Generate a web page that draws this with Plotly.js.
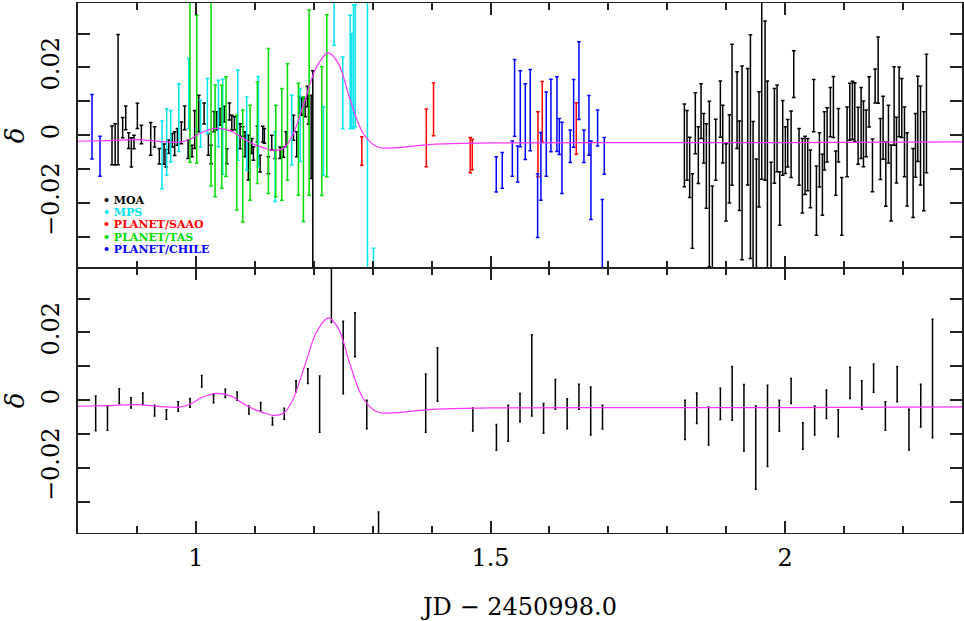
<!DOCTYPE html>
<html>
<head>
<meta charset="utf-8">
<script src="https://cdn.plot.ly/plotly-3.0.1.min.js"></script>
<style>
  body { margin: 0; background: #fff; }
  #plot { width: 964px; height: 621px; }
</style>
</head>
<body>
<div id="plot"></div>
<script>
// top panel: individual observatories (x = JD - 2450998.0, residual delta, error)
const moaX = [0.8577, 0.863, 0.868, 0.8758, 0.881, 0.886, 0.8905, 0.895, 0.9007, 0.9075, 0.9234, 0.930, 0.938, 0.946, 0.9494, 0.954, 0.960, 0.964, 0.9687, 0.9754, 0.981, 0.9868, 0.9935, 0.998, 1.005, 1.014, 1.0212, 1.0258, 1.031, 1.0354, 1.041, 1.048, 1.0524, 1.057, 1.061, 1.0654, 1.075, 1.0795, 1.0835, 1.089, 1.095, 1.0977, 1.1044, 1.109, 1.1135, 1.1163, 1.1231, 1.1288, 1.1344, 1.1429, 1.1486, 1.1531, 1.1656, 1.1712, 1.1758, 1.1797, 1.1854, 1.1893, 1.1911, 1.1956, 1.1984,
  1.8289, 1.8334, 1.8379, 1.8425, 1.8475, 1.8526, 1.8572, 1.8617, 1.8662, 1.8713, 1.8764, 1.8821, 1.8900, 1.894, 1.8996, 1.9053, 1.9098, 1.9183, 1.9223, 1.9268, 1.9364, 1.941, 1.9455, 1.9511, 1.9556, 1.9602, 1.9658, 1.9698, 1.976, 1.9817, 1.9862, 1.9907, 1.9958, 2.0003, 2.0043, 2.01, 2.0145, 2.0235, 2.0292, 2.0337, 2.0382, 2.0428, 2.0484, 2.0530, 2.0581, 2.0631, 2.0665, 2.0711, 2.0767, 2.0818, 2.0858, 2.0903, 2.096, 2.105, 2.1096, 2.1141, 2.1181, 2.1237, 2.1288, 2.1328, 2.1373, 2.1424, 2.1481, 2.1526, 2.1577, 2.1616, 2.1661, 2.1707, 2.1752, 2.1797, 2.1848, 2.1888, 2.1933, 2.1978, 2.2024, 2.2069, 2.217, 2.2211, 2.225, 2.2296, 2.2352, 2.2397];
const moaY = [-0.003, -0.0027, 0.0105, 0.0022, 0.0051, -0.0016, -0.0051, -0.002, 0.0057, 0.0002, -0.0011, -0.0005, -0.0062, -0.0056, -0.0068, -0.0034, -0.0015, -0.0025, -0.0005, 0.0007, 0.0051, -0.0042, -0.0047, 0.0017, 0.0064, 0.0064, -0.0027, -0.0057, 0.004, 0.0042, 0.0054, 0.0062, -0.0062, 0.007, 0.0037, 0.0035, -0.0003, 0.0011, -0.0027, -0.0066, -0.0032, -0.0054, 0.0003, -0.0084, 0.0003, -0.0002, -0.0089, -0.0022, -0.0057, -0.0052, -0.005, -0.0012, 0.0022, -0.0027, 0.0089, 0.0084, 0.0081, 0.0114, 0.0074, -0.0005, -0.0155,
  -0.003, -0.003, -0.0095, -0.0224, 0.0035, -0.0059, 0.0071, -0.0009, -0.0091, -0.0144, -0.03, -0.0043, 0.0077, 0.0003, -0.0139, -0.007, 0.006, 0.0074, -0.009, -0.0082, 0.0025, -0.0034, -0.02, -0.028, -0.0042, 0.015, 0.0102, -0.015, -0.03, -0.0002, 0.002, -0.0187, -0.0008, -0.0044, -0.0024, -0.0027, 0.018, -0.0064, -0.012, -0.0089, -0.0087, -0.0129, 0.0087, -0.0193, -0.0073, -0.0146, -0.0017, 0.0001, 0.0068, 0.0083, -0.0112, 0.0, -0.021, -0.002, 0.0069, 0.0073, 0.0068, -0.0002, 0.0036, 0.0004, 0.0005, 0.0098, -0.0089, 0.0145, 0.0192, -0.0041, 0.0022, -0.0115, 0.0003, -0.0141, 0.0086, -0.0044, 0.0098, 0.008, -0.002, -0.0101, -0.0141, -0.003, 0.0048, -0.0001, -0.0077, 0.0064];
const moaErr = [0.0057, 0.0061, 0.0192, 0.003, 0.0035, 0.0023, 0.0043, 0.002, 0.0037, 0.0027, 0.0048, 0.003, 0.0023, 0.003, 0.0026, 0.002, 0.002, 0.0035, 0.0025, 0.0032, 0.0035, 0.0027, 0.0017, 0.0056, 0.0054, 0.0031, 0.0032, 0.0027, 0.003, 0.0027, 0.0025, 0.0023, 0.0022, 0.0025, 0.0022, 0.0019, 0.0037, 0.0014, 0.0037, 0.0066, 0.0022, 0.002, 0.0023, 0.0025, 0.0023, 0.0022, 0.0025, 0.0022, 0.0012, 0.0017, 0.0015, 0.0022, 0.0037, 0.0037, 0.0025, 0.0025, 0.0027, 0.003, 0.0042, 0.0123, 0.0345,
  0.0122, 0.0103, 0.0089, 0.011, 0.009, 0.0084, 0.0081, 0.0073, 0.0125, 0.0244, 0.015, 0.009, 0.0083, 0.0085, 0.0114, 0.013, 0.0208, 0.0113, 0.0132, 0.0286, 0.0172, 0.033, 0.024, 0.021, 0.017, 0.028, 0.0235, 0.031, 0.022, 0.014, 0.0128, 0.0079, 0.011, 0.0069, 0.007, 0.0098, 0.0069, 0.0084, 0.011, 0.0086, 0.0077, 0.0085, 0.0077, 0.0102, 0.008, 0.009, 0.0086, 0.008, 0.0073, 0.009, 0.0065, 0.0079, 0.0085, 0.0103, 0.0084, 0.0086, 0.0087, 0.0084, 0.0105, 0.0097, 0.0069, 0.0074, 0.0078, 0.005, 0.0098, 0.009, 0.0093, 0.0095, 0.0085, 0.0112, 0.0116, 0.0097, 0.0103, 0.0087, 0.0103, 0.0108, 0.0102, 0.0094, 0.0126, 0.0146, 0.0146, 0.0175];

const mpsX = [0.9426, 0.9505, 0.9573, 0.971, 0.9879, 1.008, 1.0196, 1.0382, 1.0456, 1.0711, 1.0863, 1.106, 1.1344, 1.1627, 1.1769, 1.2165, 1.2346, 1.2493, 1.2618, 1.2646, 1.2674, 1.2703, 1.2912, 1.3014];
const mpsY = [-0.0058, -0.002, -0.0003, 0.0052, 0.0123, 0.0034, 0.0086, 0.0064, 0.0025, 0.0059, 0.0005, 0.004, -0.0093, 0.0015, 0.003, -0.0017, 0.036, 0.0125, 0.0187, 0.016, 0.0202, 0.0205, -0.005, -0.045];
const mpsErr = [0.01, 0.0098, 0.0076, 0.01, 0.0103, 0.0069, 0.0081, 0.0098, 0.014, 0.0133, 0.0108, 0.0133, 0.0103, 0.0103, 0.0108, 0.0101, 0.0095, 0.0106, 0.0167, 0.014, 0.0182, 0.018, 0.06, 0.0116];

const saaoX = [1.2816, 1.391, 1.4033, 1.4656, 1.469, 1.5805, 1.5878, 1.6455];
const saaoY = [-0.0047, -0.0008, 0.0076, -0.0059, -0.0057, -0.0027, 0.0069, 0.002];
const saaoErr = [0.0042, 0.0085, 0.0078, 0.0052, 0.0045, 0.0096, 0.0089, 0.0076];

const tasX = [0.990, 1.0015, 1.0258, 1.0326, 1.044, 1.0512, 1.0694, 1.0795, 1.092, 1.1044, 1.1231, 1.1356, 1.1458, 1.1554, 1.174, 1.1825, 1.1922, 1.2137, 1.2222];
const tasY = [0.018, 0.0136, 0.015, -0.0017, -0.0005, 0.0025, -0.0081, -0.0091, -0.0052, 0.0007, 0.0042, -0.0047, -0.0027, 0.0039, -0.0012, -0.0071, 0.0096, 0.0012, 0.0116];
const tasErr = [0.026, 0.0218, 0.03, 0.0165, 0.0152, 0.0147, 0.014, 0.0165, 0.014, 0.015, 0.0214, 0.0135, 0.0165, 0.0172, 0.0165, 0.0184, 0.0273, 0.019, 0.0239];

const chileX = [0.8238, 0.8374, 1.5097, 1.5199, 1.537, 1.5408, 1.546, 1.5505, 1.559, 1.5674, 1.5799, 1.5855, 1.5946, 1.6025, 1.6127, 1.6167, 1.6212, 1.6353, 1.641, 1.65, 1.6585, 1.667, 1.6704, 1.6817, 1.6897, 1.693];
const chileY = [0.0025, -0.0062, -0.0116, -0.0104, -0.0069, 0.011, -0.0085, 0.0078, 0.004, 0.0074, -0.0208, -0.0092, 0.0003, 0.0058, 0.0062, -0.0004, -0.0067, -0.0033, 0.0064, 0.0161, -0.0033, 0.0029, -0.0133, 0.0021, -0.033, -0.0061];
const chileErr = [0.0095, 0.0059, 0.0052, 0.0053, 0.0052, 0.0113, 0.0053, 0.0112, 0.0112, 0.012, 0.0094, 0.01, 0.0124, 0.0107, 0.011, 0.0053, 0.0105, 0.0048, 0.01, 0.0115, 0.0048, 0.0088, 0.0116, 0.0053, 0.014, 0.0054];

// bottom panel: binned residuals
const binX = [0.83, 0.85, 0.87, 0.89, 0.91, 0.93, 0.95, 0.97, 0.99, 1.01, 1.03, 1.05, 1.07, 1.09, 1.11, 1.13, 1.15, 1.17, 1.19, 1.21, 1.23, 1.25, 1.27, 1.29, 1.31, 1.39, 1.41, 1.47, 1.51, 1.53, 1.55, 1.57, 1.59, 1.61, 1.63, 1.65, 1.67, 1.69, 1.83, 1.85, 1.87, 1.89, 1.91, 1.93, 1.95, 1.97, 1.99, 2.01, 2.03, 2.05, 2.07, 2.09, 2.11, 2.13, 2.15, 2.17, 2.19, 2.21, 2.23, 2.25];
const binY = [-0.0039, -0.0054, 0.0012, -0.0008, 0.0004, -0.0031, -0.0042, -0.0019, -0.0008, 0.0056, 0.0004, 0.002, 0.0012, -0.0029, -0.0019, -0.0062, -0.004, 0.0041, 0.0071, -0.0012, 0.034, 0.0126, 0.0193, -0.0042, -0.042, -0.0009, 0.0076, -0.0057, -0.011, -0.0068, -0.0022, 0.0073, -0.0054, 0.0017, -0.004, 0.001, -0.0032, -0.005, -0.0058, -0.0024, -0.0076, -0.0011, 0.002, -0.0052, -0.014, -0.0076, -0.0046, 0.0027, -0.0106, -0.006, -0.0012, -0.0068, 0.0051, 0.0015, 0.0065, -0.0047, 0.0047, -0.0087, -0.0016, 0.0064];
const binErr = [0.0051, 0.0035, 0.0022, 0.0015, 0.0017, 0.0016, 0.0014, 0.0014, 0.0013, 0.0017, 0.0012, 0.0012, 0.0012, 0.0012, 0.0012, 0.0011, 0.0016, 0.0016, 0.0022, 0.0083, 0.011, 0.0107, 0.0065, 0.0042, 0.009, 0.0086, 0.0079, 0.0034, 0.0038, 0.0053, 0.0042, 0.012, 0.0044, 0.0044, 0.0044, 0.0037, 0.0071, 0.0035, 0.0058, 0.0045, 0.0056, 0.0046, 0.0079, 0.0098, 0.0123, 0.012, 0.0046, 0.0037, 0.0039, 0.0043, 0.0042, 0.004, 0.0046, 0.0042, 0.0042, 0.0042, 0.0052, 0.006, 0.0063, 0.0175];

// model curve
const modelX = [0.80, 0.85, 0.90, 0.94, 0.97, 0.99, 1.01, 1.035, 1.06, 1.08, 1.10, 1.12, 1.135, 1.15, 1.165, 1.185, 1.205, 1.225, 1.242, 1.262, 1.284, 1.307, 1.33, 1.40, 1.50, 1.70, 2.00, 2.30];
const modelY = [-0.0018, -0.0016, -0.0013, -0.0019, -0.0021, -0.0012, 0.0008, 0.0020, 0.0012, -0.0010, -0.0028, -0.0040, -0.0045, -0.0037, 0.0003, 0.0103, 0.0202, 0.0243, 0.0211, 0.0103, 0.0005, -0.0034, -0.0038, -0.0027, -0.0023, -0.0022, -0.0022, -0.0020];

const seriesNames = ['MOA', 'MPS', 'PLANET/SAAO', 'PLANET/TAS', 'PLANET/CHILE'];
const seriesColors = ['#000000', '#00e5ee', '#ff0000', '#00dd00', '#0000ff'];
const seriesData = [[moaX, moaY, moaErr], [mpsX, mpsY, mpsErr], [saaoX, saaoY, saaoErr], [tasX, tasY, tasErr], [chileX, chileY, chileErr]];

const serif = 'DejaVu Serif, serif';

const data = seriesData.map((s, i) => ({
  x: s[0], y: s[1],
  error_y: {type: 'data', array: s[2], visible: true, color: seriesColors[i], thickness: 1.5, width: 1.8},
  mode: 'markers', type: 'scatter',
  marker: {size: 0.1, color: seriesColors[i]},
  name: seriesNames[i], showlegend: false,
  xaxis: 'x', yaxis: 'y'
}));

data.push({
  x: modelX, y: modelY, mode: 'lines', type: 'scatter',
  line: {color: '#ff33ff', width: 1.2, shape: 'spline', smoothing: 1},
  showlegend: false, xaxis: 'x', yaxis: 'y'
});

data.push({
  x: binX, y: binY,
  error_y: {type: 'data', array: binErr, visible: true, color: '#000', thickness: 1.5, width: 1},
  mode: 'markers', type: 'scatter',
  marker: {size: 0.1, color: '#000'},
  showlegend: false, xaxis: 'x2', yaxis: 'y2'
});

data.push({
  x: modelX, y: modelY, mode: 'lines', type: 'scatter',
  line: {color: '#ff33ff', width: 1.2, shape: 'spline', smoothing: 1},
  showlegend: false, xaxis: 'x2', yaxis: 'y2'
});

const xBase = {
  range: [0.8, 2.3], dtick: 0.5, tick0: 0,
  ticks: 'inside', ticklen: 12, tickwidth: 1.5, tickcolor: '#222',
  minor: {dtick: 0.1, ticks: 'inside', ticklen: 7, tickwidth: 1.5, tickcolor: '#222'},
  showline: true, linecolor: '#222', linewidth: 1.2, mirror: 'ticks',
  showgrid: false, zeroline: false,
  tickfont: {family: serif, size: 24, color: '#000'}
};
const yBase = {
  range: [-0.0392, 0.039], dtick: 0.02, tick0: 0,
  ticks: 'inside', ticklen: 12, tickwidth: 1.5, tickcolor: '#222',
  minor: {dtick: 0.01, ticks: 'inside', ticklen: 12, tickwidth: 1.5, tickcolor: '#222'},
  showline: true, linecolor: '#222', linewidth: 1.5, mirror: 'ticks',
  showgrid: false, zeroline: false, tickangle: -90,
  ticklabelstandoff: 8,
  tickfont: {family: serif, size: 24, color: '#000'},
  title: {text: '<i>δ</i>', font: {family: serif, size: 26, color: '#000'}, standoff: 8}
};

const layout = {
  width: 964, height: 621,
  margin: {l: 78, r: 2, t: 3, b: 88},
  paper_bgcolor: '#fff', plot_bgcolor: '#fff',
  showlegend: false,
  xaxis: Object.assign({}, xBase, {anchor: 'y', showticklabels: false}),
  yaxis: Object.assign({}, yBase, {domain: [0.5, 1], anchor: 'x'}),
  xaxis2: Object.assign({}, xBase, {anchor: 'y2', ticklabelstandoff: 3,
    title: {text: 'JD − 2450998.0', font: {family: serif, size: 24, color: '#000'}, standoff: 30}}),
  yaxis2: Object.assign({}, yBase, {domain: [0, 0.5], anchor: 'x2'}),
  annotations: seriesNames.map((n, i) => ({
    xref: 'paper', yref: 'paper', x: 0.026, y: 0.628 - i * 0.0232,
    xanchor: 'left', yanchor: 'middle', showarrow: false,
    text: '<b>• ' + n + '</b>',
    font: {family: serif, size: 11, color: seriesColors[i]}
  }))
};

Plotly.newPlot('plot', data, layout, {displayModeBar: false});
</script>
</body>
</html>
